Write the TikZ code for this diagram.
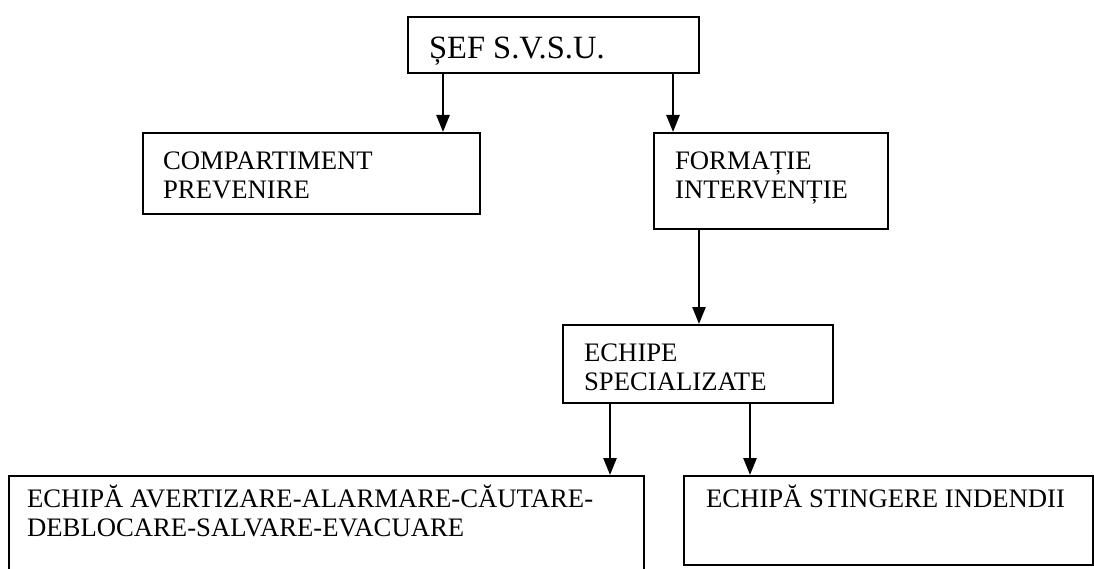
\documentclass[tikz,border=0pt]{standalone}
\usepackage{fontspec}
\setmainfont{Liberation Serif}
\usetikzlibrary{arrows.meta}
\newcommand\orgtext[5]{\parbox[t][#2][t]{#1}{\fontsize{26.7pt}{29.5pt}\selectfont\raggedright\leftskip=#3\relax\rule{0pt}{#4}#5}}
\tikzset{
  orgbox/.style={draw, line width=2.2pt, inner sep=0pt, anchor=north west},
  arr/.style={line width=2.6pt, -{Triangle[length=17pt,width=13pt]}},
}
\begin{document}
\begin{tikzpicture}[x=1pt,y=1pt]
\useasboundingbox (0,0) rectangle (1094,-569);
\clip (0,0) rectangle (1094,-569);
\node[orgbox] (sef) at (407,-16) {\orgtext{291pt}{56pt}{21pt}{41pt}{\fontsize{32.5pt}{35pt}\selectfont ȘEF S.V.S.U.}};
\node[orgbox] (comp) at (142,-132) {\orgtext{337pt}{81pt}{20pt}{36pt}{COMPARTIMENT\\PREVENIRE}};
\node[orgbox] (form) at (653,-132) {\orgtext{234pt}{96pt}{21pt}{36pt}{FORMAȚIE\\INTERVENȚIE}};
\node[orgbox] (ech) at (562,-324) {\orgtext{270pt}{78pt}{21pt}{36pt}{ECHIPE\\SPECIALIZATE}};
\node[orgbox] (av) at (8,-475) {\orgtext{635pt}{110pt}{18pt}{31pt}{ECHIPĂ AVERTIZARE-ALARMARE-CĂUTARE-\\DEBLOCARE-SALVARE-EVACUARE}};
\node[orgbox] (st) at (683,-475) {\orgtext{409pt}{89pt}{22pt}{31pt}{ECHIPĂ STINGERE INDENDII}};
\coordinate (a1) at ([xshift=36pt]sef.south west);
\coordinate (a2) at ([xshift=266pt]sef.south west);
\coordinate (a3) at ([xshift=46pt]form.south west);
\coordinate (a4) at ([xshift=48pt]ech.south west);
\coordinate (a5) at ([xshift=188pt]ech.south west);
\draw[arr] (a1) -- (a1 |- comp.north);
\draw[arr] (a2) -- (a2 |- form.north);
\draw[arr] (a3) -- (a3 |- ech.north);
\draw[arr] (a4) -- (a4 |- av.north);
\draw[arr] (a5) -- (a5 |- st.north);
\end{tikzpicture}
\end{document}
